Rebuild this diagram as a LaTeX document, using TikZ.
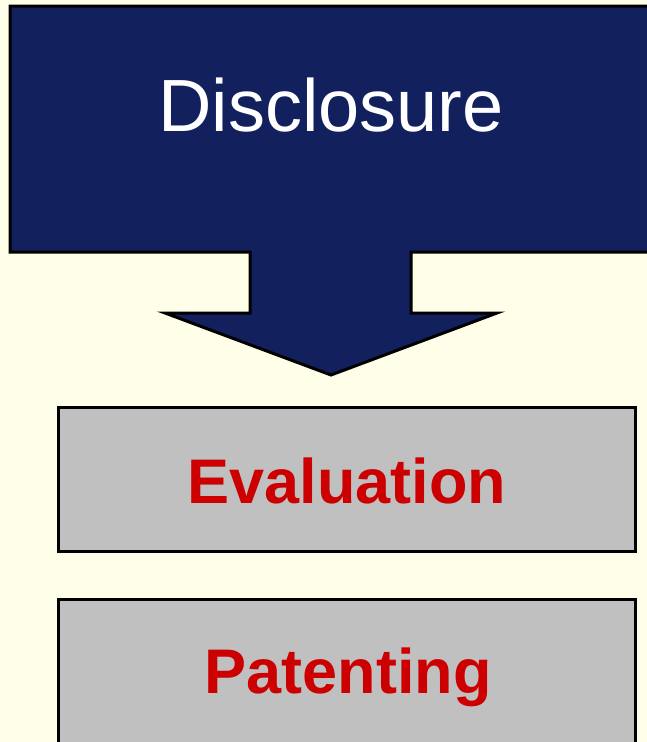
\documentclass[tikz,border=0pt]{standalone}
\usepackage{fontspec}
\setmainfont{Liberation Sans}
\definecolor{navy}{HTML}{12205E}
\definecolor{paper}{HTML}{FFFFE9}
\definecolor{boxgray}{HTML}{C0C0C0}
\definecolor{textred}{HTML}{CC0000}
\begin{document}
\begin{tikzpicture}[x=1pt,y=-1pt,
  outline/.style={draw=black,line width=3pt,line join=miter},
  stagebox/.style={outline,fill=boxgray,minimum width=577pt,inner sep=0pt},
  stagelabel/.style={font=\fontsize{63}{70}\selectfont\bfseries,text=textred}]
  \clip (0,0) rectangle (647,742);
  \fill[paper] (0,0) rectangle (647,742);
  % callout: heading block with a downward arrow
  \draw[outline,fill=navy]
    (10,6) -- (660,6) -- (660,252) -- (411,252) -- (411,313) -- (497,313)
    -- (331,375) -- (165,313) -- (250,313) -- (250,252) -- (10,252) -- cycle;
  \node[text=white,font=\fontsize{74}{80}\selectfont] (disclosure) at (331,105) {Disclosure};
  % stage boxes
  \node[stagebox,minimum height=144pt] (evaluation) at (346.5,479) {};
  \node[stagelabel] (evallabel) at (347,481) {Evaluation};
  \node[stagebox,minimum height=160pt] (patenting) at (346.5,679) {};
  \node[stagelabel] (patlabel) at (348,677) {Patenting};
\end{tikzpicture}
\end{document}
